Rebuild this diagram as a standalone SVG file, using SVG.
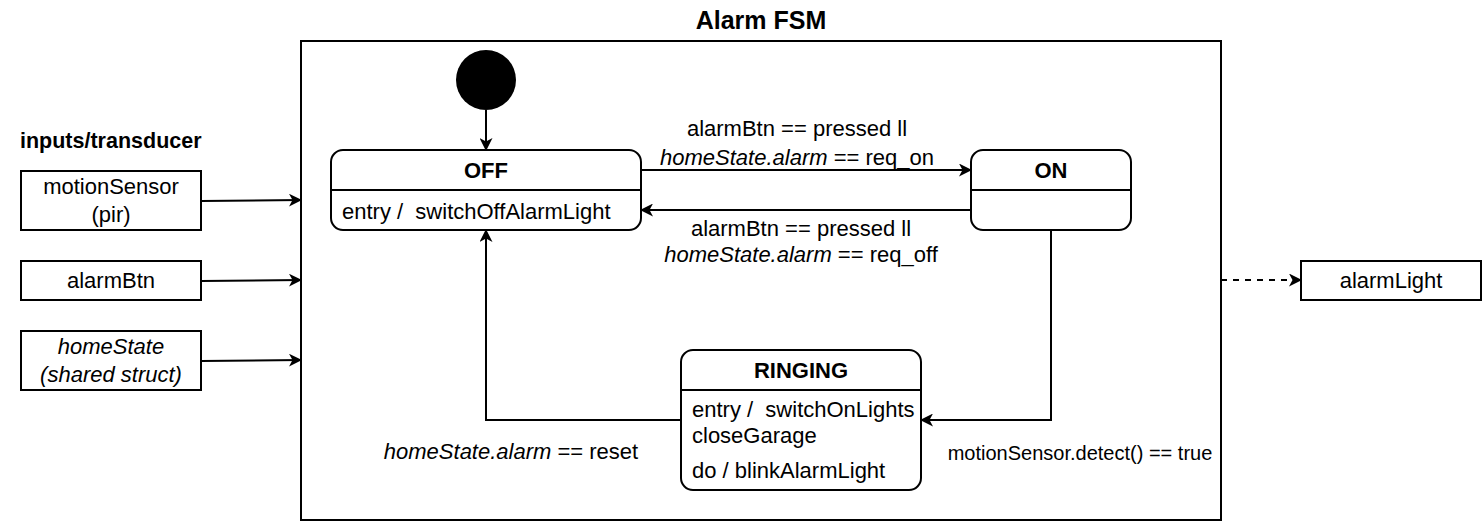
<svg xmlns="http://www.w3.org/2000/svg" width="1482" height="522" viewBox="0 0 1482 522">
<style>
text{font-family:"Liberation Sans",Arial,sans-serif;font-size:22px;fill:#000;dominant-baseline:central}
.b{font-weight:bold}
.m{text-anchor:middle}
.i{font-style:italic}
.box{fill:#fff;stroke:#000;stroke-width:2}
.ln{fill:none;stroke:#000;stroke-width:2}
</style>
<defs>
<marker id="ah" markerWidth="13" markerHeight="13" viewBox="0 0 13 13" refX="12" refY="6.5" orient="auto" markerUnits="userSpaceOnUse">
<path d="M0,0 L13,6.5 L0,13 L3.5,6.5 Z" fill="#000"/>
</marker>
</defs>
<text class="b m" x="761" y="20" style="font-size:25px">Alarm FSM</text>
<rect id="frame" class="box" x="301" y="41" width="920" height="479"/>
<g id="inputsLabel"><text class="b" x="20" y="141" style="font-size:21.5px">inputs/transducer</text></g>
<g id="motionSensor"><rect class="box" x="21" y="171" width="180" height="59"/><text class="m" x="111" y="186">motionSensor</text><text class="m" x="111" y="214">(pir)</text></g>
<g id="alarmBtn"><rect class="box" x="21" y="261" width="180" height="39"/><text class="m" x="111" y="280">alarmBtn</text></g>
<g id="homeState"><rect class="box" x="21" y="331" width="180" height="59"/><text class="m i" x="111" y="346">homeState</text><text class="m i" x="111" y="374">(shared struct)</text></g>
<g id="alarmLight"><rect class="box" x="1301" y="261" width="180" height="39"/><text class="m" x="1391" y="280">alarmLight</text></g>
<g id="init"><circle cx="486" cy="80" r="30" fill="#000"/></g>
<g id="OFF"><rect class="box" x="331" y="150" width="310" height="80" rx="12"/><line class="ln" x1="331" y1="190" x2="641" y2="190"/><text class="b m" x="486" y="170">OFF</text><text x="342" y="211">entry /&#160; switchOffAlarmLight</text></g>
<g id="ON"><rect class="box" x="971" y="150" width="160" height="80" rx="12"/><line class="ln" x1="971" y1="190" x2="1131" y2="190"/><text class="b m" x="1051" y="170">ON</text></g>
<g id="RINGING"><rect class="box" x="681" y="350" width="240" height="140" rx="12"/><line class="ln" x1="681" y1="390" x2="921" y2="390"/><text class="b m" x="801" y="370">RINGING</text><text x="692" y="409">entry /&#160; switchOnLights</text><text x="692" y="435">closeGarage</text><text x="692" y="470">do / blinkAlarmLight</text></g>
<g id="connectors">
<path class="ln" d="M201,201 L301,200" marker-end="url(#ah)"/>
<path class="ln" d="M201,281 L301,280" marker-end="url(#ah)"/>
<path class="ln" d="M201,361 L301,360" marker-end="url(#ah)"/>
<path class="ln" d="M1221,280 L1301,280" stroke-dasharray="6,6" marker-end="url(#ah)"/>
<path class="ln" d="M486,110 L486,150" marker-end="url(#ah)"/>
<path class="ln" d="M641,170 L971,170" marker-end="url(#ah)"/>
<path class="ln" d="M971,210 L641,210" marker-end="url(#ah)"/>
<path class="ln" d="M1051,230 L1051,420 L921,420" marker-end="url(#ah)"/>
<path class="ln" d="M681,420 L486,420 L486,230" marker-end="url(#ah)"/>
<text class="m" x="797" y="128">alarmBtn == pressed ll</text>
<text class="m" x="797" y="157"><tspan class="i">homeState.alarm</tspan> == req_on</text>
<text class="m" x="801" y="228">alarmBtn == pressed ll</text>
<text class="m" x="801" y="254"><tspan class="i">homeState.alarm</tspan> == req_off</text>
<text class="m" x="511" y="451"><tspan class="i">homeState.alarm</tspan> == reset</text>
<text class="m" x="1080" y="453" style="font-size:20px">motionSensor.detect() == true</text>
</g>
</svg>
